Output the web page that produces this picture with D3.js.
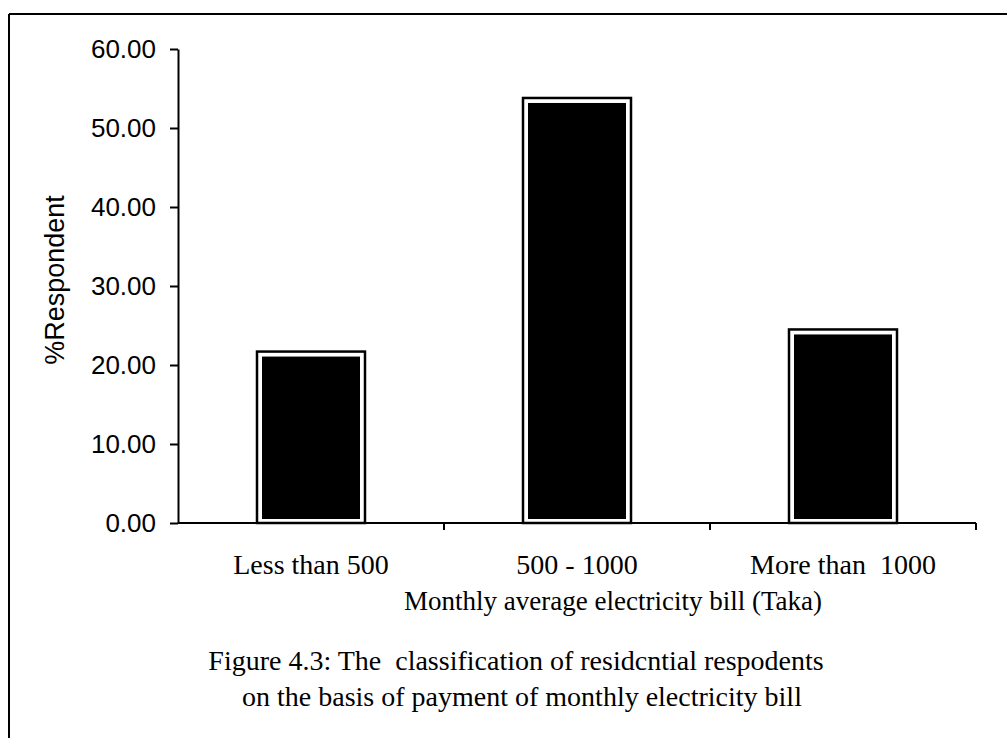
<!DOCTYPE html>
<html>
<head>
<meta charset="utf-8">
<script src="https://cdn.jsdelivr.net/npm/d3@7"></script>
<style>
  html, body { margin: 0; padding: 0; background: #fff; }
  svg { display: block; }
</style>
</head>
<body>
<script>
const categories = ["Less than 500", "500 - 1000", "More than  1000"];
const values = [21.7, 53.8, 24.5];
const yTicks = [0, 10, 20, 30, 40, 50, 60];
const yTitle = "%Respondent";
const xTitle = "Monthly average electricity bill (Taka)";
const caption = ["Figure 4.3: The  classification of residcntial respodents",
                 "on the basis of payment of monthly electricity bill"];

const W = 1007, H = 738;
const svg = d3.select("body").append("svg").attr("width", W).attr("height", H);

// outer frame (top and left lines)
svg.append("line").attr("x1", 9).attr("y1", 14).attr("x2", W).attr("y2", 14)
  .attr("stroke", "#000").attr("stroke-width", 2);
svg.append("line").attr("x1", 9).attr("y1", 14).attr("x2", 9).attr("y2", H)
  .attr("stroke", "#000").attr("stroke-width", 2);

const x = d3.scaleBand().domain(categories).range([178, 976])
  .paddingInner(0.594).paddingOuter(0.297);
const y = d3.scaleLinear().domain([0, 60]).range([523, 49]);

const sans = "'Liberation Sans', Arial, sans-serif";
const serif = "'Liberation Serif', 'Times New Roman', serif";

// Y axis
const yAxis = d3.axisLeft(y).tickValues(yTicks).tickFormat(d3.format(".2f"))
  .tickSize(8).tickSizeOuter(0).tickPadding(14);
const gy = svg.append("g").attr("transform", "translate(178,0)").call(yAxis);
gy.select(".domain").attr("stroke-width", 2);
gy.selectAll(".tick line").attr("stroke-width", 2);
gy.selectAll(".tick text").attr("font-family", sans).attr("font-size", 26).attr("fill", "#000");

// X axis baseline and boundary ticks
const [x0, x1] = x.range();
svg.append("line").attr("x1", x0).attr("x2", x1).attr("y1", y(0)).attr("y2", y(0))
  .attr("stroke", "#000").attr("stroke-width", 2);
const gap = (x.step() - x.bandwidth()) / 2;
svg.selectAll(".xtick").data(categories).join("line").attr("class", "xtick")
  .attr("x1", d => x(d) + x.bandwidth() + gap).attr("x2", d => x(d) + x.bandwidth() + gap)
  .attr("y1", y(0)).attr("y2", y(0) + 7)
  .attr("stroke", "#000").attr("stroke-width", 2);

// bars: outer outlined rect with white gap and black inner fill
const bars = svg.append("g");
bars.selectAll(".outer").data(values).join("rect").attr("class", "outer")
  .attr("x", (d, i) => x(categories[i]))
  .attr("y", d => y(d))
  .attr("width", x.bandwidth())
  .attr("height", d => y(0) - y(d))
  .attr("fill", "#fff").attr("stroke", "#000").attr("stroke-width", 2.5);
const inset = 5;
bars.selectAll(".inner").data(values).join("rect").attr("class", "inner")
  .attr("x", (d, i) => x(categories[i]) + inset)
  .attr("y", d => y(d) + inset)
  .attr("width", x.bandwidth() - 2 * inset)
  .attr("height", d => y(0) - y(d) - 2 * inset + 1)
  .attr("fill", "#000");

// category labels
svg.selectAll(".cat").data(categories).join("text").attr("class", "cat")
  .attr("x", d => x(d) + x.bandwidth() / 2)
  .attr("y", 574)
  .attr("text-anchor", "middle")
  .attr("font-family", serif).attr("font-size", 28)
  .style("white-space", "pre")
  .attr("xml:space", "preserve")
  .text(d => d);

// x title
svg.append("text").attr("x", 613).attr("y", 610).attr("text-anchor", "middle")
  .attr("font-family", serif).attr("font-size", 27).text(xTitle);

// caption
const capX = [516, 522];
svg.selectAll(".cap").data(caption).join("text").attr("class", "cap")
  .attr("x", (d, i) => capX[i]).attr("y", (d, i) => 670 + i * 36)
  .attr("text-anchor", "middle")
  .attr("font-family", serif).attr("font-size", 28)
  .attr("xml:space", "preserve").style("white-space", "pre")
  .text(d => d);

// y title
svg.append("text").attr("transform", "translate(64,280) rotate(-90)")
  .attr("text-anchor", "middle")
  .attr("font-family", sans).attr("font-size", 27).text(yTitle);
</script>
</body>
</html>
